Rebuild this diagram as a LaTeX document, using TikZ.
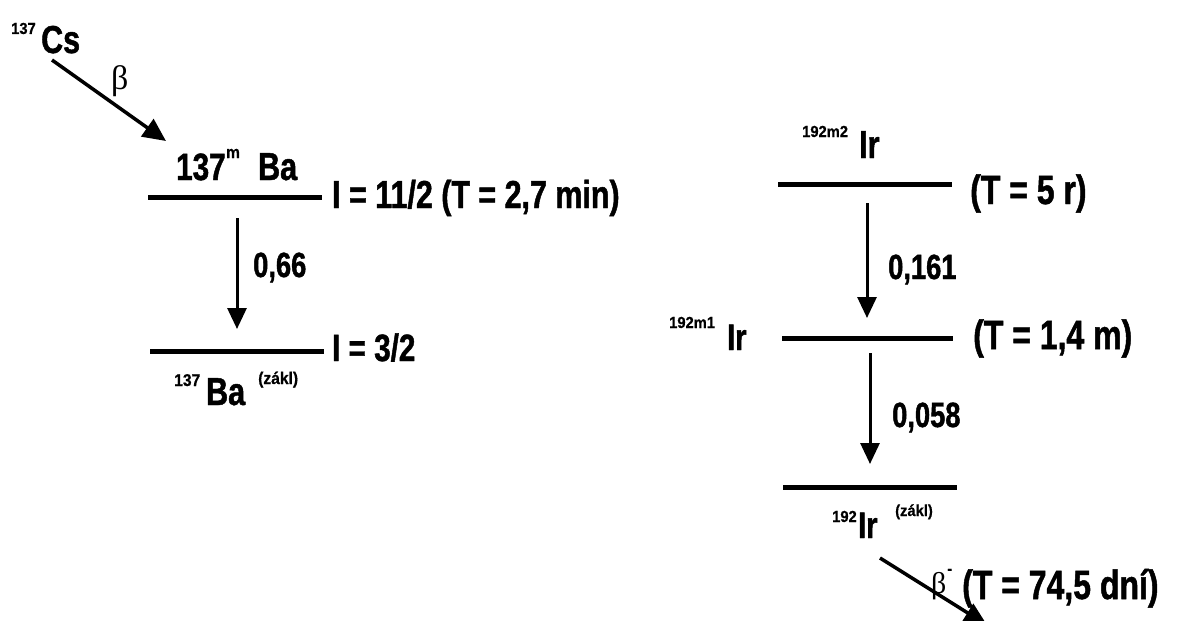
\documentclass[tikz,border=0pt]{standalone}
\usepackage{fontspec}
\usetikzlibrary{arrows.meta}
\newfontfamily\nf{Liberation Sans}[FakeStretch=0.78,FakeBold=1.2]
\newfontfamily\nfs{Liberation Sans}[FakeStretch=0.92,FakeBold=0.6]
\newfontfamily\gf{Liberation Serif}
\tikzset{
  txt/.style={inner sep=0pt, anchor=base west, font=\nf\bfseries\fontsize{#1}{#1}\selectfont},
  stxt/.style={inner sep=0pt, anchor=base west, font=\nfs\bfseries\fontsize{#1}{#1}\selectfont},
  level/.style={line width=5pt},
  gam/.style={line width=3pt, -{Triangle[length=21pt,width=19pt]}},
  bet/.style={line width=3.5pt, -{Triangle[length=23pt,width=21pt]}},
  greek/.style={inner sep=0pt, anchor=base west, font=\gf\fontsize{#1}{#1}\selectfont}
}
\begin{document}
\begin{tikzpicture}[x=1pt,y=-1pt]
\useasboundingbox (0,0) rectangle (1200,621);
% ---------- left scheme: 137Cs -> 137mBa ----------
\node[stxt=16] (cssup) at (11,34) {137};
\node[txt=39] (cs) at (41,53) {Cs};
\coordinate (bs1) at (52,60);
\coordinate (be1) at (166,141);
\draw[bet] (bs1) -- (be1);
\node[greek=34] (beta1) at (111,89) {β};
\node[txt=38] (bam) at (176,180) {137};
\node[stxt=17] (bamsup) at (bam.base east) [yshift=22pt, xshift=0pt] {m};
\node[txt=39] (ba) at (258,180) {Ba};
\coordinate (l1a) at (148,197); \coordinate (l1b) at (322,197);
\draw[level] (l1a) -- (l1b);
\node[txt=39] (spin1) at (332,208) {I = 11/2 (T = 2,7 min)};
\coordinate (g1s) at (237,218); \coordinate (g1e) at (237,329);
\draw[gam] (g1s) -- (g1e);
\node[txt=35] (e1) at (253,277) {0,66};
\coordinate (l2a) at (150,351); \coordinate (l2b) at (324,351);
\draw[level] (l2a) -- (l2b);
\node[txt=38] (spin2) at (332,361) {I = 3/2};
\node[stxt=17] (ba0sup) at (174,386) {137};
\node[txt=39] (ba0) at (206,405) {Ba};
\node[stxt=17] (zakl1) at (258,384) {(zákl)};
% ---------- right scheme: 192Ir ----------
\node[stxt=16] (ir2sup) at (802,137) {192m2};
\node[txt=39] (ir2) at (859,158) {Ir};
\coordinate (l3a) at (778,184); \coordinate (l3b) at (952,184);
\draw[level] (l3a) -- (l3b);
\node[txt=41] (t1) at (970,204) {(T = 5 r)};
\coordinate (g2s) at (867,203); \coordinate (g2e) at (867,318);
\draw[gam] (g2s) -- (g2e);
\node[txt=35] (e2) at (888,279) {0,161};
\node[stxt=16] (ir1sup) at (669,328) {192m1};
\node[txt=37] (ir1) at (727,350) {Ir};
\coordinate (l4a) at (782,338); \coordinate (l4b) at (953,338);
\draw[level] (l4a) -- (l4b);
\node[txt=41] (t2) at (973,349) {(T = 1,4 m)};
\coordinate (g3s) at (870,353); \coordinate (g3e) at (870,464);
\draw[gam] (g3s) -- (g3e);
\node[txt=35] (e3) at (892,427) {0,058};
\coordinate (l5a) at (783,487); \coordinate (l5b) at (957,487);
\draw[level] (l5a) -- (l5b);
\node[stxt=16] (ir0sup) at (832,522) {192};
\node[txt=37] (ir0) at (858,538) {Ir};
\coordinate (zk) at (895,516);
\node[stxt=16] (zakl2) at (zk) {(zákl)};
\coordinate (bs2) at (880,558); \coordinate (be2) at (987,625);
\draw[bet] (bs2) -- (be2);
\node[greek=30] (beta2) at (931,593) {β};
\node[stxt=16] (betam) at (beta2.base east) [yshift=19pt, xshift=0.5pt] {-};
\node[txt=41] (t3) at (962,599) {(T = 74,5 dní)};
\end{tikzpicture}
\end{document}
